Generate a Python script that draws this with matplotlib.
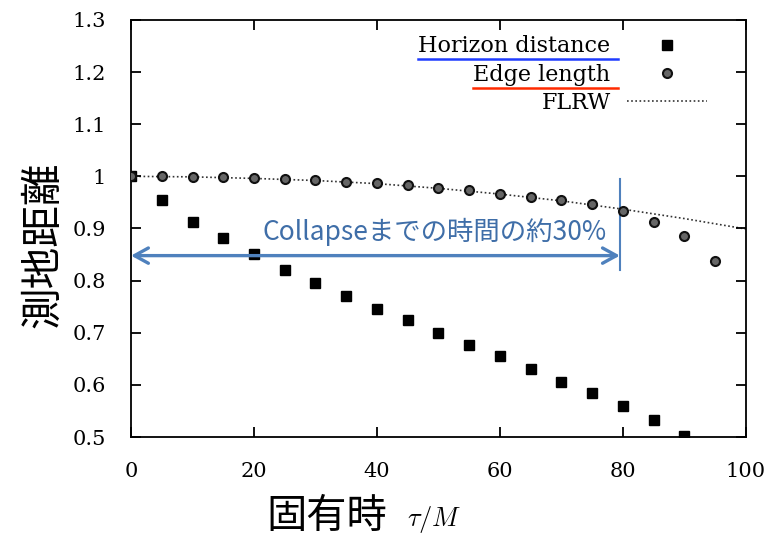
import matplotlib
matplotlib.use("Agg")
import matplotlib.pyplot as plt

plt.rcParams["mathtext.fontset"] = "cm"

# 固有時 tau/M
tau = [0, 5, 10, 15, 20, 25, 30, 35, 40, 45, 50, 55, 60, 65, 70, 75, 80, 85, 90, 95]
tau_h = tau[:19]
horizon = [1.0, 0.954, 0.912, 0.881, 0.852, 0.82, 0.795, 0.77, 0.745, 0.724,
           0.70, 0.677, 0.656, 0.631, 0.606, 0.585, 0.56, 0.533, 0.503]
edge = [1.0, 1.0, 0.999, 0.998, 0.996, 0.995, 0.993, 0.99, 0.987, 0.983,
        0.978, 0.973, 0.967, 0.961, 0.955, 0.947, 0.934, 0.912, 0.885, 0.838]
tau_flrw = [0, 10, 20, 30, 40, 50, 60, 70, 80, 90, 100]
flrw = [1.0, 0.999, 0.996, 0.992, 0.986, 0.977, 0.966, 0.953, 0.937, 0.919, 0.899]

serif = "DejaVu Serif"
jp = ["Noto Sans CJK JP", "DejaVu Sans"]
blue = "#4f81bd"

fig = plt.figure(figsize=(7.73, 5.37), dpi=100)
ax = fig.add_axes([0.1695, 0.186, 0.7955, 0.777])

ax.plot(tau_flrw, flrw, ls=(0, (1, 1.5)), color="#333333", lw=1.2, label="FLRW", zorder=1)
ax.plot(tau_h, horizon, "s", color="black", ms=7, label="Horizon distance", zorder=3)
ax.plot(tau, edge, "o", mfc="#666666", mec="#111111", mew=1.5, ms=6.5,
        label="Edge length", zorder=3)

ax.set_xlim(0, 100)
ax.set_ylim(0.5, 1.3)
ax.set_xticks([0, 20, 40, 60, 80, 100])
ax.set_yticks([0.5, 0.6, 0.7, 0.8, 0.9, 1.0, 1.1, 1.2, 1.3])
ax.set_yticklabels(["0.5", "0.6", "0.7", "0.8", "0.9", "1", "1.1", "1.2", "1.3"])
ax.tick_params(direction="in", top=True, right=True, length=7, width=1.3,
               labelsize=15, pad=18)
ax.tick_params(axis="y", pad=18)
for lab in ax.get_xticklabels() + ax.get_yticklabels():
    lab.set_family(serif)
for s in ax.spines.values():
    s.set_linewidth(1.3)

# labels
fig.text(0.057, 0.545, "測地距離", family=jp, fontsize=30, rotation=90,
         ha="center", va="center")
fig.text(0.345, 0.016, "固有時", family=jp, fontsize=29)
fig.text(0.527, 0.02, r"$\tau/M$", fontsize=19)

# legend
h, l = ax.get_legend_handles_labels()
order = [1, 2, 0]
leg = ax.legend([h[i] for i in order], [l[i] for i in order], loc="upper right",
                bbox_to_anchor=(0.937, 0.963), frameon=False, markerfirst=False,
                handlelength=3.6, prop={"family": serif, "size": 16},
                borderaxespad=0, borderpad=0, labelspacing=0.29,
                handletextpad=0.75)

# annotation
ax.annotate("", xy=(0, 0.848), xytext=(79.5, 0.848),
            arrowprops=dict(arrowstyle="<->,head_length=1.0,head_width=0.55",
                            color=blue, lw=2.4, shrinkA=0, shrinkB=0))
ax.plot([79.5, 79.5], [0.82, 0.995], color=blue, lw=1.5, zorder=2)
ax.text(49.3, 0.893, "Collapseまでの時間の約30%", family=jp, fontsize=19,
        color="#3f6ea8", ha="center", va="center")

# underline legend entries
fig.canvas.draw()
texts = leg.get_texts()
inv = fig.transFigure.inverted()
for t, c in zip(texts[:2], ["#1f3cff", "#ff2a00"]):
    bb = t.get_window_extent()
    (x0, y0), (x1, y1) = inv.transform([[bb.x0, bb.y0], [bb.x1, bb.y1]])
    fig.add_artist(plt.Line2D([x0, x1 + 0.01], [y0 - 0.004, y0 - 0.004], color=c, lw=1.8))

fig.savefig("out.png", dpi=100)
